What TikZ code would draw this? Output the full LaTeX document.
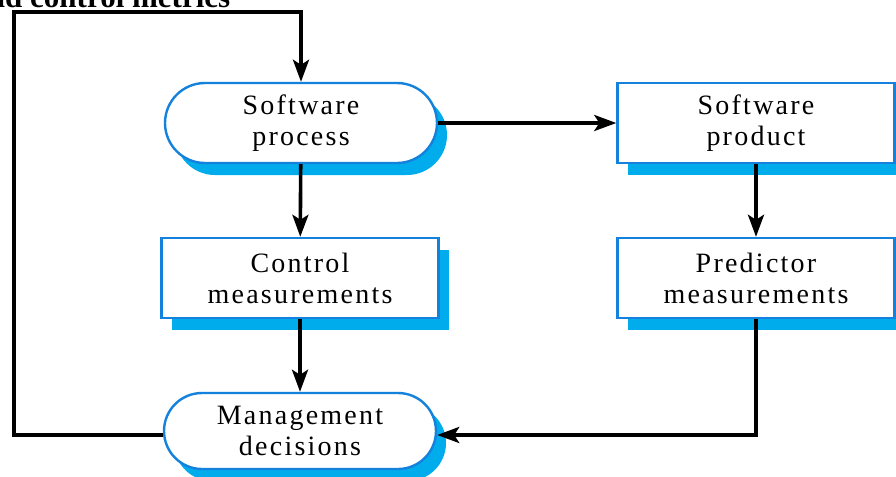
\documentclass[tikz,border=0pt]{standalone}
\usepackage{fontspec}
\setmainfont{Liberation Serif}
\usetikzlibrary{arrows.meta,positioning,shapes.misc,shadows}
\definecolor{edge}{RGB}{20,130,220}
\definecolor{shade}{RGB}{0,172,236}
\tikzset{
  every picture/.style={line width=1.8pt, >={Stealth[length=11pt,width=8pt,inset=2.5pt]}},
  % Kästen
  block/.style={draw=edge, line width=1.2pt, fill=white, align=center, inner sep=0pt,
    font=\fontsize{14}{15.5}\selectfont\addfontfeature{LetterSpace=8},
    drop shadow={shadow xshift=5pt, shadow yshift=-6pt, fill=shade, opacity=1}},
  procbox/.style={block, rounded rectangle, minimum width=136pt, minimum height=40pt},
  databox/.style={block, rectangle, minimum width=138.5pt, minimum height=40pt},
  % Pfeile
  flow/.style={->, line width=1.8pt},
  headline/.style={font=\fontsize{15.5}{18}\selectfont\bfseries, inner sep=0pt},
}
\begin{document}
\begin{tikzpicture}[x=0.5pt, y=-0.5pt]
  \useasboundingbox (0,0) rectangle (896,477);
  \clip (0,0) rectangle (896,477);
  % ---------- Überschrift (oben abgeschnitten) ----------
  \node[headline, anchor=base east] (ttl) at (232,7) {Predictor and control metrics};
  % ---------- Kästen ----------
  \node[procbox] (proc) at (301,123) {Software\\process};
  \node[databox] (prod) at (756,123) {Software\\product};
  \node[databox] (ctrl) at (300,278) {Control\\measurements};
  \node[databox] (pred) at (756,278) {Predictor\\measurements};
  \node[procbox, minimum height=38pt] (mgmt) at (300,431) {Management\\decisions};
  \coordinate (lt) at (14,12);
  % ---------- Pfeile ----------
  \draw[flow] (proc) -- (prod);
  \draw[flow] (proc) -- (ctrl);
  \draw[flow] (prod) -- (pred);
  \draw[flow] (ctrl) -- (mgmt);
  \draw[flow] (pred.south) |- ([yshift=-2pt]mgmt.east);
  \draw[flow] ([yshift=-2pt]mgmt.west) -| (lt) -| (proc.north);
\end{tikzpicture}
\end{document}
